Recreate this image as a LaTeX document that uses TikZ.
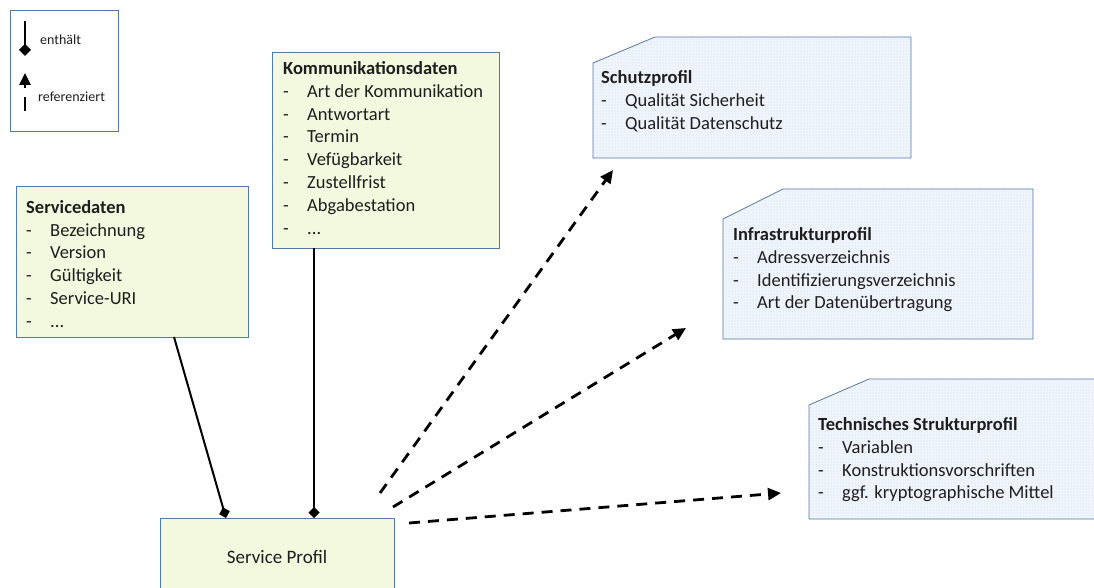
\documentclass[tikz,border=0pt]{standalone}
\usepackage{fontspec}
\setmainfont{Carlito}
\usetikzlibrary{arrows.meta,patterns,calc}
\definecolor{gfill}{RGB}{242,249,222}
\definecolor{bfill}{RGB}{240,245,251}
\definecolor{bdot}{RGB}{200,214,234}
\definecolor{edge}{RGB}{84,120,170}
\definecolor{txt}{RGB}{30,30,30}
\tikzset{
  gbox/.style={draw=edge, line width=0.8pt, fill=gfill, anchor=north west, inner sep=0pt},
  bbox/.style={draw=edge, line width=0.8pt, preaction={fill=bfill}, pattern=dots, pattern color=bdot},
  lbl/.style={anchor=north west, inner sep=0pt, align=left, text=txt, font=\fontsize{18.5}{22.9}\selectfont},
  contains/.style={line width=2pt, -{Diamond[length=11pt,width=11pt]}},
  refers/.style={line width=2.8pt, dash pattern=on 11pt off 8pt, -{Triangle[length=13pt,width=12pt]}},
  legtxt/.style={anchor=west, inner sep=0pt, font=\fontsize{14}{16}\selectfont, text=txt},
}
\newcommand{\itm}[1]{\makebox[24pt][l]{-}#1}
\begin{document}
\begin{tikzpicture}[x=1pt,y=-1pt]
\useasboundingbox (0,0) rectangle (1094,588);
% legend
\node[draw=edge, line width=1.2pt, minimum width=108pt, minimum height=121pt, anchor=north west, inner sep=0pt] (legend) at (10,10) {};
\coordinate (l1a) at (25,21);
\coordinate (l1b) at (25,56);
\draw[contains, -{Diamond[length=12pt,width=12pt]}] (l1a) -- (l1b);
\node[legtxt] (lt1) at (40,40) {enthält};
\coordinate (l2a) at (25,111);
\coordinate (l2b) at (25,73);
\draw[line width=2.5pt, dash pattern=on 14pt off 9pt, -{Triangle[length=12pt,width=11pt]}] (l2a) -- (l2b);
\node[legtxt] (lt2) at (38,97) {referenziert};

% Servicedaten
\node[gbox, minimum width=232pt, minimum height=151pt] (sd) at (16,186) {};
\node[lbl] (sdt) at (26,200) {\textbf{Servicedaten}\\ \itm{Bezeichnung}\\ \itm{Version}\\ \itm{Gültigkeit}\\ \itm{Service-URI}\\ \itm{...}};

% Kommunikationsdaten
\node[gbox, minimum width=227pt, minimum height=196pt] (kd) at (272,52) {};
\node[lbl] (kdt) at (283,61) {\textbf{Kommunikationsdaten}\\ \itm{Art der Kommunikation}\\ \itm{Antwortart}\\ \itm{Termin}\\ \itm{Vefügbarkeit}\\ \itm{Zustellfrist}\\ \itm{Abgabestation}\\ \itm{...}};

% Service Profil
\node[gbox, minimum width=234pt, minimum height=80pt] (sp) at (160,518) {};
\node[inner sep=0pt, text=txt, font=\fontsize{19}{22}\selectfont] (spt) at (277,557) {Service Profil};

% Schutzprofil
\draw[bbox] (593,63) -- (655,37) -- (911,37) -- (911,158) -- (593,158) -- cycle;
\node[lbl] (sch) at (601,70) {\textbf{Schutzprofil}\\ \itm{Qualität Sicherheit}\\ \itm{Qualität Datenschutz}};
\coordinate (schin) at (613,170);

% Infrastrukturprofil
\draw[bbox] (723,219) -- (783,189) -- (1033,189) -- (1033,339) -- (723,339) -- cycle;
\node[lbl] (inf) at (733,227) {\textbf{Infrastrukturprofil}\\ \itm{Adressverzeichnis}\\ \itm{Identifizierungsverzeichnis}\\ \itm{Art der Datenübertragung}};
\coordinate (infin) at (686,328);

% Technisches Strukturprofil
\draw[bbox] (809,405) -- (869,379) -- (1100,379) -- (1100,519) -- (809,519) -- cycle;
\node[lbl] (tsp) at (818,417) {\textbf{Technisches Strukturprofil}\\ \itm{Variablen}\\ \itm{Konstruktionsvorschriften}\\ \itm{ggf. kryptographische Mittel}};
\coordinate (tspin) at (781,493);

% containment connectors
\coordinate (sdout) at (174,337);
\coordinate (spin1) at (226,518);
\draw[contains] (sdout) -- (spin1);
\coordinate (kdout) at (314,248);
\coordinate (spin2) at (314,518);
\draw[contains] (kdout) -- (spin2);

% reference connectors
\coordinate (spo1) at (380,493);
\coordinate (spo2) at (393,507);
\coordinate (spo3) at (409,523);
\draw[refers] (spo1) -- (schin);
\draw[refers] (spo2) -- (infin);
\draw[refers] (spo3) -- (tspin);
\end{tikzpicture}
\end{document}
